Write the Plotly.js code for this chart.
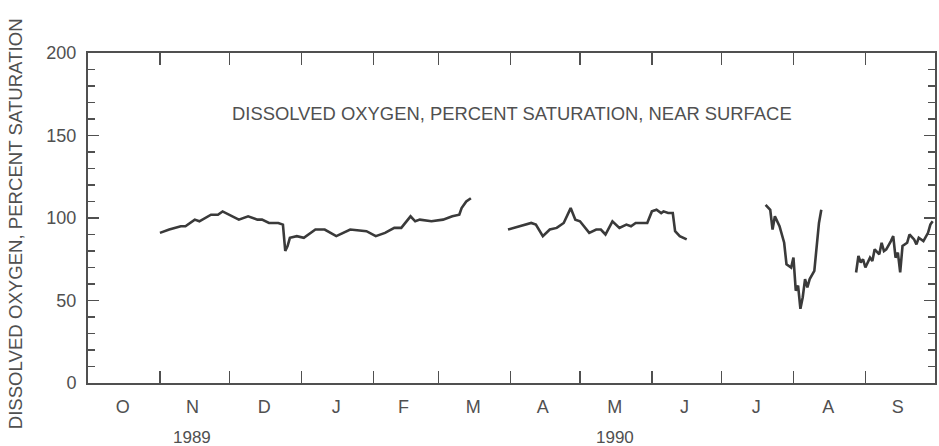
<!DOCTYPE html>
<html>
<head>
<meta charset="utf-8">
<script src="https://cdn.plot.ly/plotly-3.0.1.min.js"></script>
<style>html,body{margin:0;padding:0;background:#fff;}#chart{width:939px;height:446px;}</style>
</head>
<body>
<div id="chart"></div>
<script>
// Daily dissolved oxygen, percent saturation, near surface (gaps = missing record)
const dates1 = ['1989-11-01','1989-11-05','1989-11-10','1989-11-12','1989-11-16','1989-11-18','1989-11-23','1989-11-26','1989-11-28','1989-12-01','1989-12-05','1989-12-09','1989-12-13','1989-12-15','1989-12-18','1989-12-22','1989-12-24','1989-12-25','1989-12-26','1989-12-27','1989-12-30','1990-01-02','1990-01-05','1990-01-07','1990-01-11','1990-01-16','1990-01-22','1990-01-29','1990-02-02','1990-02-06','1990-02-10','1990-02-13','1990-02-17','1990-02-19','1990-02-21','1990-02-26','1990-03-03','1990-03-07','1990-03-10','1990-03-11','1990-03-13','1990-03-15'];
const values1 = [91,93,95,95,99,98,102,102,104,102,99,101,99,99,97,97,96,80,83,88,89,88,91,93,93,89,93,92,89,91,94,94,101,98,99,98,99,101,102,106,110,112];

const dates2 = ['1990-03-31','1990-04-05','1990-04-10','1990-04-12','1990-04-15','1990-04-18','1990-04-21','1990-04-24','1990-04-27','1990-04-29','1990-05-01','1990-05-05','1990-05-08','1990-05-10','1990-05-12','1990-05-15','1990-05-18','1990-05-21','1990-05-23','1990-05-25','1990-05-30','1990-06-01','1990-06-03','1990-06-05','1990-06-06','1990-06-08','1990-06-10','1990-06-11','1990-06-13','1990-06-16'];
const values2 = [93,95,97,96,89,93,94,97,106,99,98,91,93,93,90,98,94,96,95,97,97,104,105,103,104,103,103,92,89,87];

const dates3 = ['1990-07-20','1990-07-22','1990-07-23','1990-07-24','1990-07-26','1990-07-28','1990-07-29','1990-07-31','1990-08-01','1990-08-02','1990-08-03','1990-08-04','1990-08-05','1990-08-06','1990-08-07','1990-08-08','1990-08-10','1990-08-11','1990-08-12','1990-08-13'];
const values3 = [108,105,93,101,95,85,72,70,76,56,59,45,52,63,58,63,68,81,97,105];

const dates4 = ['1990-08-28','1990-08-29','1990-08-30','1990-08-31','1990-09-01','1990-09-03','1990-09-04','1990-09-05','1990-09-07','1990-09-08','1990-09-09','1990-09-10','1990-09-12','1990-09-13','1990-09-14','1990-09-15','1990-09-16','1990-09-17','1990-09-19','1990-09-20','1990-09-22','1990-09-23','1990-09-24','1990-09-26','1990-09-28','1990-09-29','1990-09-30'];
const values4 = [67,77,73,75,70,76,74,81,78,85,80,81,86,89,76,79,67,83,85,90,87,84,88,86,91,96,98];

const monthStarts = ['1989-10-01','1989-11-01','1989-12-01','1990-01-01','1990-02-01','1990-03-01','1990-04-01','1990-05-01','1990-06-01','1990-07-01','1990-08-01','1990-09-01','1990-10-01'];
const monthMids = ['1989-10-16','1989-11-15','1989-12-16','1990-01-16','1990-02-14','1990-03-16','1990-04-15','1990-05-16','1990-06-15','1990-07-16','1990-08-16','1990-09-15'];
const monthLetters = ['O','N','D','J','F','M','A','M','J','J','A','S'];
const yearLabels = ['1989','1990'];
const yearPositions = ['1989-11-15','1990-05-16'];
const yTicks = [0,50,100,150,200];

const seriesTitle = 'DISSOLVED OXYGEN, PERCENT SATURATION, NEAR SURFACE';
const yTitle = 'DISSOLVED OXYGEN, PERCENT SATURATION';

// join segments with null breaks
const xs = [], ys = [];
[[dates1,values1],[dates2,values2],[dates3,values3],[dates4,values4]].forEach((s,i)=>{
  if(i>0){ xs.push(s[0][0]); ys.push(null); }
  s[0].forEach((d,j)=>{ xs.push(d); ys.push(s[1][j]); });
});

const ink = '#505050';
const fontFam = 'Liberation Sans, Arial, sans-serif';

const data = [{
  x: xs, y: ys, type: 'scatter', mode: 'lines', connectgaps: false,
  line: {color: '#3a3a3a', width: 2.6}, hoverinfo: 'x+y', showlegend: false
},{
  x: [monthMids[0]], y: [null], xaxis: 'x2', type: 'scatter', mode: 'lines', showlegend: false, hoverinfo: 'skip'
}];

const annotations = [{
  text: seriesTitle, xref: 'paper', yref: 'y', x: 0.5, y: 163.6, showarrow: false,
  font: {family: fontFam, size: 18.4, color: ink}, xanchor: 'center', yanchor: 'middle'
},{
  text: yTitle, xref: 'paper', yref: 'paper', x: 0, y: 0.49, xshift: -73, yshift: -3, textangle: -90,
  showarrow: false, font: {family: fontFam, size: 18.6, color: ink}, xanchor: 'center', yanchor: 'middle'
}];
yearLabels.forEach((t,i)=>annotations.push({
  text: t, xref: 'x', yref: 'paper', x: yearPositions[i], y: 0, yshift: -54, showarrow: false,
  font: {family: fontFam, size: 17, color: ink}, xanchor: 'center', yanchor: 'middle'
}));

const layout = {
  width: 939, height: 446,
  margin: {l: 88, r: 4, t: 53, b: 63},
  paper_bgcolor: '#ffffff', plot_bgcolor: '#ffffff',
  font: {family: fontFam, color: ink},
  showlegend: false,
  xaxis: {
    type: 'date', range: ['1989-10-01','1990-10-01'],
    tickmode: 'array', tickvals: monthStarts, ticktext: monthStarts.map(()=>''),
    ticks: 'inside', ticklen: 12, tickwidth: 1.6, tickcolor: ink,
    showline: true, linecolor: ink, linewidth: 2, mirror: 'ticks',
    showgrid: false, zeroline: false, fixedrange: true
  },
  xaxis2: {
    type: 'date', range: ['1989-10-01','1990-10-01'], overlaying: 'x', side: 'bottom',
    tickmode: 'array', tickvals: monthMids, ticktext: monthLetters,
    ticks: '', showline: false, showgrid: false, zeroline: false,
    tickfont: {family: fontFam, size: 18, color: ink}, ticklabelstandoff: 11
  },
  yaxis: {
    range: [0, 200], tickmode: 'array', tickvals: yTicks,
    ticks: 'inside', ticklen: 11, tickwidth: 1.6, tickcolor: ink,
    minor: {dtick: 10, ticks: 'inside', ticklen: 7, tickwidth: 1.3, tickcolor: ink, showgrid: false},
    showline: true, linecolor: ink, linewidth: 2, mirror: 'ticks',
    showgrid: false, zeroline: false,
    tickfont: {family: fontFam, size: 18, color: ink}, ticklabelstandoff: 6, fixedrange: true
  },
  annotations: annotations
};

Plotly.newPlot('chart', data, layout, {staticPlot: true, displayModeBar: false});
</script>
</body>
</html>
